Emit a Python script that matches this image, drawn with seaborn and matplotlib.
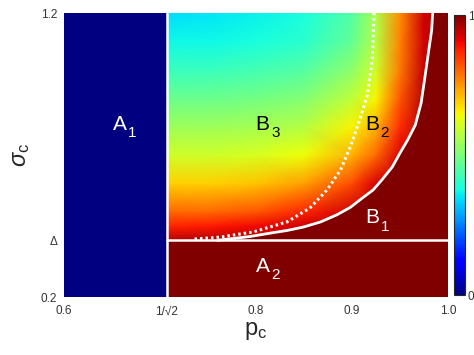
import numpy as np
import matplotlib
matplotlib.use("Agg")
import matplotlib.pyplot as plt
import seaborn as sns

sns.set_style("white")
plt.rcParams["font.family"] = ["Liberation Sans", "DejaVu Sans"]
plt.rcParams["mathtext.fontset"] = "custom"
plt.rcParams["mathtext.rm"] = "Liberation Sans"
plt.rcParams["mathtext.it"] = "Liberation Sans:italic"

# ---- data ----
P_MIN, P_MAX = 0.6, 1.0
S_MIN, S_MAX = 0.2, 1.2
p_crit = 1 / np.sqrt(2)
delta = 0.4

p_cols = [0.7071, 0.75, 0.80, 0.85, 0.90, 0.925, 0.95, 0.975, 1.00]
sigma_rows = [0.40, 0.45, 0.50, 0.60, 0.70, 0.80, 0.90, 1.00, 1.10, 1.20]
val_s040 = [0.95, 0.95, 0.95, 0.95, 0.95, 0.95, 0.95, 0.95, 0.95]
val_s045 = [0.87, 0.88, 0.90, 0.93, 0.95, 0.95, 0.95, 0.95, 0.95]
val_s050 = [0.80, 0.80, 0.82, 0.87, 0.93, 0.95, 0.95, 0.95, 0.95]
val_s060 = [0.69, 0.69, 0.70, 0.74, 0.83, 0.92, 0.95, 0.95, 0.95]
val_s070 = [0.60, 0.60, 0.61, 0.64, 0.72, 0.80, 0.92, 0.95, 0.95]
val_s080 = [0.54, 0.54, 0.55, 0.57, 0.65, 0.72, 0.86, 0.95, 0.95]
val_s090 = [0.48, 0.48, 0.49, 0.51, 0.58, 0.65, 0.82, 0.95, 0.95]
val_s100 = [0.42, 0.42, 0.43, 0.45, 0.52, 0.60, 0.78, 0.94, 0.95]
val_s110 = [0.37, 0.37, 0.38, 0.40, 0.47, 0.57, 0.77, 0.93, 0.95]
val_s120 = [0.34, 0.35, 0.36, 0.38, 0.45, 0.56, 0.76, 0.93, 0.95]

solid_p = [0.760, 0.776, 0.794, 0.815, 0.832, 0.849, 0.867, 0.884, 0.898, 0.911, 0.922,
           0.931, 0.942, 0.950, 0.958, 0.966, 0.972, 0.976, 0.980, 0.983, 0.984]
solid_s = [0.400, 0.406, 0.413, 0.425, 0.434, 0.446, 0.464, 0.489, 0.515, 0.549, 0.577,
           0.612, 0.658, 0.707, 0.753, 0.806, 0.883, 0.975, 1.070, 1.140, 1.200]

dot_p = [0.736, 0.763, 0.797, 0.832, 0.856, 0.874, 0.888, 0.899, 0.908, 0.916, 0.921, 0.923]
dot_s = [0.404, 0.411, 0.429, 0.464, 0.513, 0.577, 0.647, 0.735, 0.823, 0.911, 1.035, 1.200]

xtick_vals = [0.6, p_crit, 0.8, 0.9, 1.0]
xtick_labels = ["0.6", "1/\u221a2", "0.8", "0.9", "1.0"]
ytick_vals = [0.2, delta, 1.2]
ytick_labels = ["0.2", "\u0394", "1.2"]

region_main = ["A", "A", "B", "B", "B"]
region_sub = ["1", "2", "1", "2", "3"]
region_p = [0.658, 0.807, 0.921, 0.921, 0.807]
region_s = [0.809, 0.309, 0.480, 0.809, 0.809]
region_colors = ["white", "white", "white", "black", "black"]

# ---- figure ----
W, H = 474, 355
fig = plt.figure(figsize=(W / 100, H / 100), dpi=100)
ax = fig.add_axes([64 / W, (H - 297) / H, (448 - 64) / W, (297 - 13) / H])
cax = fig.add_axes([454 / W, (H - 295) / H, 11 / W, 280 / H])

cmap = plt.get_cmap("jet")
V = np.array([val_s040, val_s045, val_s050, val_s060, val_s070,
              val_s080, val_s090, val_s100, val_s110, val_s120])
PP, SS = np.meshgrid(p_cols, sigma_rows)
mesh = ax.pcolormesh(PP, SS, V, shading="gouraud", cmap=cmap, vmin=0, vmax=1, rasterized=True)

# saturated phases: A1 (value 0), A2 and B1 (value 1)
ax.fill_between([P_MIN, p_crit], S_MIN, S_MAX, color=cmap(0.0), lw=0)
ax.fill_between([p_crit, P_MAX], S_MIN, delta, color=cmap(1.0), lw=0)
ax.fill(solid_p + [P_MAX, P_MAX], solid_s + [S_MAX, delta], color=cmap(1.0), lw=0)

sns.lineplot(x=solid_p, y=solid_s, sort=False, estimator=None, color="white", lw=2,
             solid_joinstyle="round", ax=ax)
sns.lineplot(x=dot_p, y=dot_s, sort=False, estimator=None, color="white", lw=2.2,
             linestyle=(0, (0.8, 1.0)), ax=ax)
ax.axvline(p_crit, color="white", lw=1.8)
ax.plot([p_crit, P_MAX], [delta, delta], color="white", lw=1.8)

for m, sb, px, sy, c in zip(region_main, region_sub, region_p, region_s, region_colors):
    ax.text(px, sy, m, color=c, fontsize=15, ha="center", va="center")
    ax.annotate(sb, (px, sy), xytext=(9, -6.5), textcoords="offset points",
                color=c, fontsize=11, ha="center", va="center")

ax.set_xlim(P_MIN, P_MAX)
ax.set_ylim(S_MIN, S_MAX)
ax.set_xticks(xtick_vals)
ax.set_xticklabels(xtick_labels)
ax.set_yticks(ytick_vals)
ax.set_yticklabels(ytick_labels)
ax.tick_params(length=0, labelsize=8.5, colors="#333333")
ax.tick_params(axis="x", pad=6)
ax.tick_params(axis="y", pad=5)
ax.set_xlabel("$\\mathrm{p}_\\mathrm{c}$", fontsize=17, labelpad=2)
ax.set_ylabel("$\\sigma_\\mathrm{c}$", fontsize=17, labelpad=6)
for s in ax.spines.values():
    s.set_visible(False)

cb = fig.colorbar(mesh, cax=cax, ticks=[0, 1])
cb.ax.set_yticklabels(["0", "1"])
cb.ax.tick_params(length=0, labelsize=8.5, colors="#333333", pad=2)
cb.outline.set_linewidth(0.8)

fig.savefig("out.png", dpi=100)
